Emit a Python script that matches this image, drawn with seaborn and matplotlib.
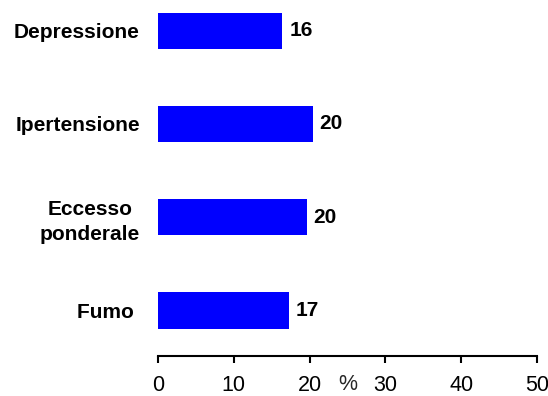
import matplotlib
matplotlib.use("Agg")
import matplotlib.pyplot as plt
import seaborn as sns
import pandas as pd

# Prevalence (%) of each risk factor
categories = ["Depressione", "Ipertensione", "Eccesso\nponderale", "Fumo "]
values = [16.4, 20.4, 19.6, 17.3]
x_ticks = [0, 10, 20, 30, 40, 50]
x_label = "%"

sns.set_theme(style="white")
plt.rcParams["font.family"] = ["Liberation Sans", "DejaVu Sans"]

df = pd.DataFrame({"categoria": categories, "valore": values})

fig = plt.figure(figsize=(5.48, 3.96), dpi=100)
ax = fig.add_axes([158 / 548, 40 / 396, (537 - 158) / 548, 356 / 396])

sns.barplot(data=df, x="valore", y="categoria", orient="h", color="#0000FF",
            saturation=1, width=0.39, linewidth=0, ax=ax)

ax.set_xlim(0, 50)
ax.set_ylim(3.49, -0.33)
ax.set_xticks(x_ticks)
ax.set_xticklabels([str(t) for t in x_ticks], fontsize=15.5)

ax.set_ylabel("")
ax.set_xlabel(x_label, fontsize=15.5)
ax.xaxis.set_label_coords(0.5, -0.051)
ax.xaxis.label.set_verticalalignment("top")

for side in ["top", "right", "left"]:
    ax.spines[side].set_visible(False)
ax.spines["bottom"].set_linewidth(1.5)
ax.spines["bottom"].set_color("black")

ax.tick_params(axis="x", direction="out", length=5, width=1.5, color="black",
               pad=9, bottom=True, labelcolor="black")
ax.tick_params(axis="y", length=0, pad=13)
for lbl in ax.get_yticklabels():
    lbl.set_fontsize(15)
    lbl.set_fontweight("bold")
    lbl.set_multialignment("center")
    lbl.set_linespacing(1.4)
    lbl.set_color("black")

for i, v in enumerate(values):
    ax.annotate(f"{v:.0f}", xy=(v, i), xytext=(5, 0), textcoords="offset points",
                ha="left", va="center", fontsize=15, fontweight="bold", color="black")

fig.savefig("out.png", dpi=100, facecolor="white")
